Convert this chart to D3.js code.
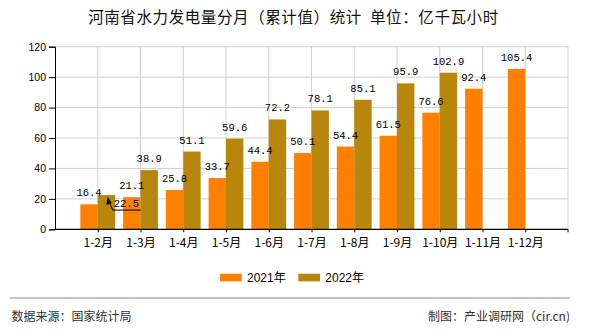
<!DOCTYPE html>
<html><head><meta charset="utf-8">
<script src="https://cdn.jsdelivr.net/npm/d3@7"></script>
<style>body{margin:0;background:#fff}svg{display:block}</style>
</head><body>
<script>
const categories = ["1-2月","1-3月","1-4月","1-5月","1-6月","1-7月","1-8月","1-9月","1-10月","1-11月","1-12月"];
const values2021 = [16.4,21.1,25.8,33.7,44.4,50.1,54.4,61.5,76.6,92.4,105.4];
const values2022 = [22.5,38.9,51.1,59.6,72.2,78.1,85.1,95.9,102.9,null,null];
const seriesNames = ["2021年","2022年"];
const seriesColors = ["#FF8000","#B8860B"];
const yTicks = [0,20,40,60,80,100,120];
const title = "河南省水力发电量分月（累计值）统计  单位：亿千瓦小时";
const sourceLeft = "数据来源：国家统计局";
const sourceRight = "制图：产业调研网（cir.cn)";

(function(){
const W = 590, H = 330;
const pL = 55, pR = 568, pT = 46.7, pB = 229.3;
const step = (pR-pL)/12;
const svg = d3.select("body").append("svg").attr("width",W).attr("height",H);

const x = d3.scalePoint().domain(categories).range([pL+step, pR-step]);
const y = d3.scaleLinear().domain([0,120]).range([pB, pT]);
const bw = 17.4;

// title
svg.append("text").attr("x",293.5).attr("y",23).attr("text-anchor","middle")
  .attr("font-family","'Noto Sans CJK SC',sans-serif").attr("font-size",15.5).attr("letter-spacing",0.6)
  .attr("fill","#111").style("white-space","pre").text(title);

// grid
const g = svg.append("g");
g.selectAll(".hg").data(yTicks.filter(d=>d>0)).join("line")
  .attr("x1",pL).attr("x2",pR).attr("y1",d=>y(d)).attr("y2",d=>y(d))
  .attr("stroke","#d0d0d0").attr("stroke-width",1);
const vx = categories.map(c=>x(c)).concat([pR]);
g.selectAll(".vg").data(vx).join("line")
  .attr("x1",d=>d).attr("x2",d=>d).attr("y1",pT).attr("y2",pB)
  .attr("stroke","#d0d0d0").attr("stroke-width",1);

// bars
const series = [values2021, values2022];
series.forEach((vals,si)=>{
  svg.append("g").selectAll("rect").data(vals.map((v,i)=>({v,c:categories[i]})).filter(d=>d.v!=null))
    .join("rect")
    .attr("x",d=>x(d.c) + (si===0 ? -bw : 0))
    .attr("y",d=>y(d.v)).attr("width",bw).attr("height",d=>pB-y(d.v))
    .attr("fill",seriesColors[si]);
});

// value labels
const lblFont = "'Liberation Mono','DejaVu Sans Mono',monospace";
series.forEach((vals,si)=>{
  vals.forEach((v,i)=>{
    if(v==null) return;
    const cx = x(categories[i]) + (si===0 ? -bw/2 : bw/2);
    if(si===1 && i===0){
      const tipX = x(categories[i]) + 10, tipY = y(v) + 2;
      const lx = tipX + 5, ly = y(v) + 15;
      svg.append("line").attr("x1",lx).attr("y1",ly).attr("x2",lx+28).attr("y2",ly).attr("stroke","#000");
      svg.append("line").attr("x1",lx).attr("y1",ly).attr("x2",tipX+1).attr("y2",tipY+4).attr("stroke","#000");
      svg.append("path").attr("d",`M${tipX},${tipY} L${tipX-1.5},${tipY+8} L${tipX+4},${tipY+6} Z`).attr("fill","#000");
      svg.append("text").attr("x",lx+1).attr("y",ly-3).attr("font-family",lblFont).attr("font-size",10.5)
        .attr("fill","#000").text(v.toFixed(1));
      return;
    }
    svg.append("text").attr("x",cx).attr("y",y(v)-8).attr("text-anchor","middle")
      .attr("font-family",lblFont).attr("font-size",10.5).attr("fill","#000").text(v.toFixed(1));
  });
});

// y axis
const ya = svg.append("g").attr("transform",`translate(${pL},0)`)
  .call(d3.axisLeft(y).tickValues(yTicks).tickSize(6).tickPadding(3));
ya.select(".domain").attr("stroke","#000");
ya.selectAll("text").attr("font-family","'Liberation Sans',Arial,sans-serif").attr("font-size",10.5).attr("fill","#000");

// x axis
const xa = svg.append("g").attr("transform",`translate(0,${pB})`)
  .call(d3.axisBottom(x).tickSize(3).tickPadding(6));
xa.select(".domain").remove();
xa.append("line").attr("x1",pL).attr("x2",pR).attr("y1",0).attr("y2",0).attr("stroke","#000").attr("stroke-width",1.2);
xa.append("line").attr("x1",pR).attr("x2",pR).attr("y1",0).attr("y2",3).attr("stroke","#000");
xa.selectAll("text").attr("font-family","'Noto Sans CJK SC',sans-serif").attr("font-size",12).attr("fill","#000");

// legend
const lg = svg.append("g");
const lgX = [220, 298.3];
seriesNames.forEach((n,i)=>{
  lg.append("rect").attr("x",lgX[i]).attr("y",273.7).attr("width",21.7).attr("height",7.7).attr("fill",seriesColors[i]);
  lg.append("text").attr("x",lgX[i]+27).attr("y",281.5).attr("font-family","'Liberation Sans','Noto Sans CJK SC',sans-serif")
    .attr("font-size",12).attr("fill","#000").text(n);
});

// footer
svg.append("line").attr("x1",10).attr("x2",570).attr("y1",298).attr("y2",298).attr("stroke","#888").attr("stroke-width",1);
svg.append("text").attr("x",11.5).attr("y",321).attr("font-family","'Noto Sans CJK SC',sans-serif").attr("font-size",12)
  .attr("fill","#333").text(sourceLeft);
svg.append("text").attr("x",570).attr("y",321).attr("text-anchor","end").attr("font-family","'Noto Sans CJK SC',sans-serif").attr("font-size",12)
  .attr("fill","#333").text(sourceRight);
})();
</script>
</body></html>
